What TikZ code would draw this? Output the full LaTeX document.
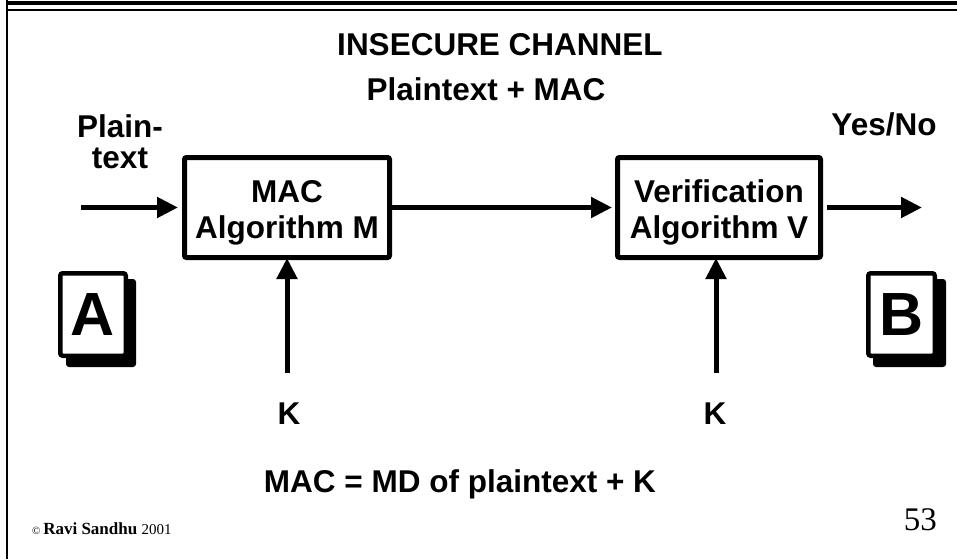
\documentclass[tikz,border=0pt]{standalone}
\usepackage{fontspec}
\setmainfont{Liberation Serif}
\setsansfont{Liberation Sans}
\usetikzlibrary{arrows.meta}

\begin{document}
\begin{tikzpicture}[x=1pt,y=-1pt,
  lbl/.style={inner sep=0pt, font=\sffamily\bfseries\fontsize{31.5}{36}\selectfont},
  algbox/.style={draw, line width=5pt, rounded corners=2pt,
    minimum height=100pt, inner sep=0pt},
  docpage/.style={draw, fill=white, line width=4.5pt, rounded corners=2.5pt,
    minimum height=82.5pt, inner sep=0pt,
    font=\sffamily\bfseries\fontsize{61}{61}\selectfont},
  docshadow/.style={fill=black, rounded corners=3pt},
  flow/.style={line width=5pt, -{Triangle[length=21pt,width=20pt]}},
  rule/.style={line width=#1}]

\useasboundingbox (0,0) rectangle (957,559);

% slide frame
\draw[rule=2pt] (7,0) -- (7,559);
\draw[rule=3.7pt] (6,2.8) -- (957,2.8);
\draw[rule=2pt] (6,10) -- (957,10);

% headings
\node[lbl, anchor=base] (title) at (500,56) {INSECURE CHANNEL};
\node[lbl, anchor=base] (chan) at (486,101) {Plaintext + MAC};

% processing blocks (frame, then the two-line caption set on its last baseline)
\node[algbox, minimum width=205pt] (mac) at (287,207.5) {};
\node[algbox, minimum width=203pt] (ver) at (719,207.5) {};
\node[lbl, align=center, anchor=base] (mactext) at (287,238) {MAC\\Algorithm M};
\node[lbl, align=center, anchor=base] (vertext) at (719,238) {Verification\\Algorithm V};

% input / output labels
\node[lbl, anchor=base, align=center, font=\sffamily\bfseries\fontsize{31.5}{31}\selectfont]
  (ptext) at (120,168) {Plain-\\text};
\node[lbl, anchor=base] (yesno) at (884,135) {Yes/No};

% keys
\node[lbl, anchor=base] (k1) at (289,424) {K};
\node[lbl, anchor=base] (k2) at (715,424) {K};
\coordinate (k1tail) at (287,373);
\coordinate (k2tail) at (716,373);

% parties
\fill[docshadow] (66,279) rectangle (136,367);
\node[docpage, minimum width=65.5pt] (A) at (93,314.5) {A};
\fill[docshadow] (873,279) rectangle (946,367);
\node[docpage, minimum width=66.5pt] (B) at (901.5,314.5) {B};

% data flow
\coordinate (pin) at (81,207.5);
\coordinate (pout) at (922,207.5);
\draw[flow, shorten >=4pt] (pin) -- (mac.west);
\draw[flow, shorten >=3pt] (mac.east) -- (ver.west);
\draw[flow, shorten <=4pt] (ver.east) -- (pout);
\draw[flow, shorten >=-2pt] (k1tail) -- (k1tail |- mac.south);
\draw[flow, shorten >=-2pt] (k2tail) -- (k2tail |- ver.south);

% definition
\node[lbl, anchor=base] (formula) at (460,492) {MAC = MD of plaintext + K};

% footer
\node[anchor=base west, inner sep=0pt] (copy) at (32,534)
  {\fontsize{11}{13}\selectfont ©\ \fontsize{17}{20}\selectfont\bfseries Ravi Sandhu
   \mdseries\fontsize{15}{18}\selectfont 2001};
\node[anchor=base east, inner sep=0pt, font=\fontsize{33}{36}\selectfont] (pageno) at (937,530) {53};

\end{tikzpicture}
\end{document}
